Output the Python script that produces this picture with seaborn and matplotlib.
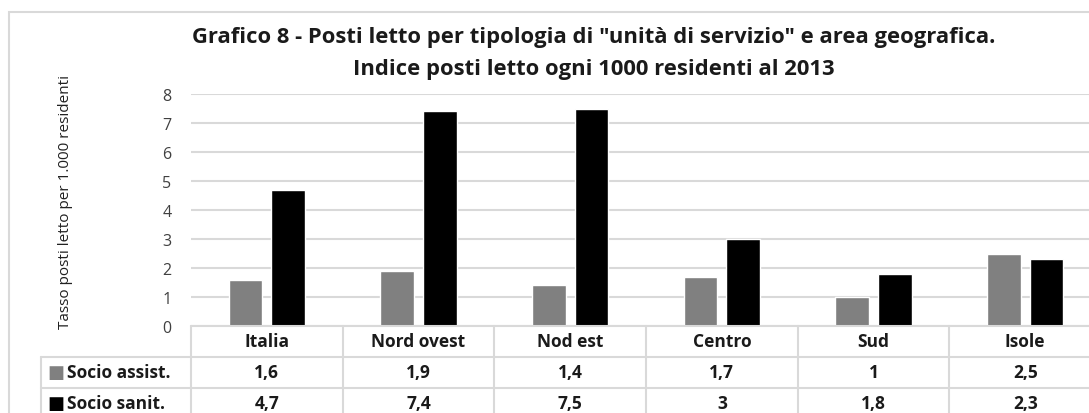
import matplotlib
matplotlib.use("Agg")
import matplotlib.pyplot as plt
import matplotlib.transforms as mtransforms
from matplotlib.patches import Rectangle
import seaborn as sns
import pandas as pd

areas = ["Italia", "Nord ovest", "Nod est", "Centro", "Sud", "Isole"]
socio_assist = [1.6, 1.9, 1.4, 1.7, 1.0, 2.5]
socio_sanit = [4.7, 7.4, 7.5, 3.0, 1.8, 2.3]
series_names = ["Socio assist.", "Socio sanit."]
labels_assist = ["1,6", "1,9", "1,4", "1,7", "1", "2,5"]
labels_sanit = ["4,7", "7,4", "7,5", "3", "1,8", "2,3"]

df = pd.DataFrame({
    "area": areas * 2,
    "serie": [series_names[0]] * 6 + [series_names[1]] * 6,
    "valore": socio_assist + socio_sanit,
})

sns.set_theme(style="white")
plt.rcParams["font.family"] = ["Open Sans", "DejaVu Sans"]

W, H = 1089, 414
fig = plt.figure(figsize=(W / 100, H / 100), dpi=100)
# plot area in pixels: x 191..1101 (cut at right), y 95..327
ax = fig.add_axes([191 / W, 1 - 327 / H, 910 / W, 232 / H])

colors = ["#808080", "#000000"]
sns.barplot(data=df, x="area", y="valore", hue="serie", palette=colors,
            width=0.56, gap=0.21, ax=ax, legend=False, saturation=1)

ax.set_ylim(0, 8)
ax.set_xlim(-0.5, 5.5)
ax.set_yticks(range(0, 9))
ax.yaxis.grid(True, color="#d9d9d9", lw=1.5)
ax.set_axisbelow(True)
for s in ax.spines.values():
    s.set_visible(False)
ax.set_xticks([])
ax.set_xlabel("")
ax.set_ylabel("")
ax.tick_params(axis="y", length=0, pad=14, labelsize=11.5, labelcolor="#404040")

fig.text(66 / W, 1 - 202 / H, "Tasso posti letto per 1.000 residenti", rotation=90,
         ha="center", va="center", fontsize=11, color="#202020")

fig.text(594 / W, 1 - 37 / H, 'Grafico 8 - Posti letto per tipologia di "unità di servizio" e area geografica.',
         ha="center", va="center", fontsize=15.8, fontweight="bold", color="#1a1a1a")
fig.text(594 / W, 1 - 69 / H, "Indice posti letto ogni 1000 residenti al 2013",
         ha="center", va="center", fontsize=15.8, fontweight="bold", color="#1a1a1a")

# data table under the axis
tr = mtransforms.blended_transform_factory(ax.transData, ax.transAxes)
px = 1 / 232
rows_y = [0, -31 * px, -62 * px, -93 * px]
left_x = -0.5 - 150 / 151.7
grid_kw = dict(color="#d9d9d9", lw=1.5, transform=tr, clip_on=False)
ax.plot([-0.5, 5.5], [rows_y[0]] * 2, **grid_kw)
for yy in rows_y[1:]:
    ax.plot([left_x, 5.5], [yy] * 2, **grid_kw)
for i in range(7):
    ax.plot([i - 0.5] * 2, [rows_y[0], rows_y[3]], **grid_kw)
ax.plot([left_x] * 2, [rows_y[1], rows_y[3]], **grid_kw)

txt_kw = dict(transform=tr, ha="center", va="center", fontsize=12.5,
              fontweight="bold", color="#1a1a1a", clip_on=False)
for i, a in enumerate(areas):
    ax.text(i, (rows_y[0] + rows_y[1]) / 2, a, **txt_kw)
    ax.text(i, (rows_y[1] + rows_y[2]) / 2, labels_assist[i], **txt_kw)
    ax.text(i, (rows_y[2] + rows_y[3]) / 2, labels_sanit[i], **txt_kw)

for r, (name, c) in enumerate(zip(series_names, colors)):
    yc = (rows_y[r + 1] + rows_y[r + 2]) / 2
    ax.text(left_x + 0.04, yc, "■", transform=tr, ha="left", va="center",
            fontsize=13, color=c, clip_on=False, family="DejaVu Sans")
    ax.text(left_x + 0.17, yc, name, transform=tr, ha="left", va="center",
            fontsize=12.5, fontweight="bold", color="#1a1a1a", clip_on=False)

# chart frame
fig.patches.append(Rectangle((9 / W, -0.1), 1.2, 1 - 13 / H + 0.1,
                             transform=fig.transFigure, fill=False,
                             edgecolor="#d9d9d9", lw=1.5))

fig.savefig("out.png", dpi=100)
